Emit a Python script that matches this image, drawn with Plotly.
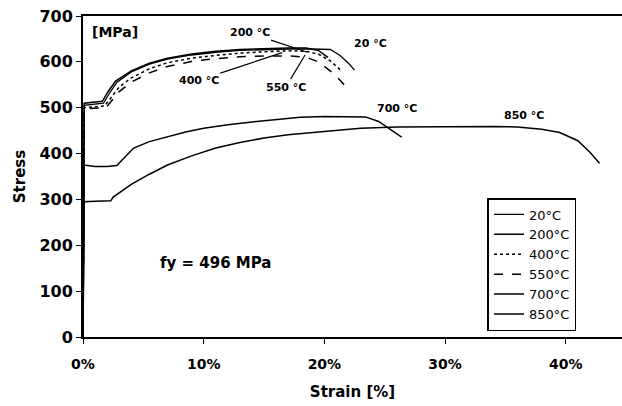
import plotly.graph_objects as go

# ---- data (strain in %, stress in MPa) ----
strain_20 = [0, 0.1, 1.7, 2.2, 2.8, 4, 5.5, 7, 9, 11, 13, 15, 17, 19, 20.5, 21.3, 22, 22.5]
stress_20 = [0, 505, 510, 532, 555, 578, 595, 606, 615, 621, 625, 627, 628, 628, 627, 614, 597, 582]

strain_200 = [0, 0.1, 1.6, 2.1, 2.7, 4, 5.5, 7, 9, 11, 13, 15, 17, 18.5, 19.5, 20.3]
stress_200 = [0, 510, 514, 536, 558, 580, 597, 608, 617, 623, 627, 629, 630, 630, 625, 610]

strain_400 = [0, 0.1, 1.8, 2.3, 3, 4, 5.5, 7, 9, 11, 13, 15, 17, 18.5, 19.5, 20.5, 21.3]
stress_400 = [0, 500, 504, 522, 545, 565, 585, 598, 608, 614, 619, 622, 624, 623, 617, 602, 583]

strain_550 = [0, 0.1, 1.9, 2.4, 3, 4, 5.5, 7, 9, 11, 13, 15, 17, 18.5, 19.5, 20.5, 21.3, 22]
stress_550 = [0, 498, 500, 515, 535, 556, 576, 590, 601, 607, 611, 613, 613, 610, 600, 580, 560, 539]

strain_700 = [0, 0.1, 1, 2, 2.8, 3.5, 4.2, 5.5, 7, 8.5, 10, 12, 14, 16, 18, 20, 22, 23.4, 24.5, 25.5, 26.4]
stress_700 = [0, 375, 372, 372, 374, 392, 412, 426, 437, 447, 455, 463, 469, 474, 479, 481, 481, 480, 470, 452, 436]

strain_850 = [0, 0.1, 1, 2.3, 2.5, 3, 4, 5.5, 7, 9, 11, 13, 15, 17, 19, 21, 23, 26, 30, 34, 36, 38, 39.5, 41, 42, 42.8]
stress_850 = [0, 295, 296, 297, 305, 315, 333, 355, 375, 395, 412, 424, 434, 441, 446, 451, 455, 458, 459, 459, 458, 453, 446, 428, 403, 379]

legend_names = ["20°C", "200°C", "400°C", "550°C", "700°C", "850°C"]
curve_labels = ["20 °C", "200 °C", "400 °C", "550 °C", "700 °C", "850 °C"]
y_ticks = [0, 100, 200, 300, 400, 500, 600, 700]
x_ticks = [0, 10, 20, 30, 40]
x_tick_text = ["0%", "10%", "20%", "30%", "40%"]

series = [
    (strain_20, stress_20, "solid", 1.3),
    (strain_200, stress_200, "solid", 1.5),
    (strain_400, stress_400, "dot", 1.5),
    (strain_550, stress_550, "dash", 1.5),
    (strain_700, stress_700, "solid", 1.5),
    (strain_850, stress_850, "solid", 1.5),
]

fig = go.Figure()
for (xs, ys, dash, w), name in zip(series, legend_names):
    fig.add_trace(go.Scatter(x=xs, y=ys, mode="lines", name=name,
                             line=dict(color="black", width=w, dash=dash)))

lab_font = dict(family="DejaVu Sans", size=11, color="black", weight="bold")

# curve labels: (text, target x, target y, label x, label y)
labels = [
    (curve_labels[0], None, None, 23.8, 641),
    (curve_labels[1], 18.6, 621, 13.8, 663),
    (curve_labels[2], 16.5, 620, 9.6, 560),
    (curve_labels[3], 18.4, 615, 16.8, 545),
    (curve_labels[4], None, None, 26.0, 499),
    (curve_labels[5], None, None, 36.5, 484),
]
for text, tx, ty, lx, ly in labels:
    if tx is None:
        fig.add_annotation(x=lx, y=ly, text=text, showarrow=False, font=lab_font)
    else:
        fig.add_annotation(x=tx, y=ty, ax=lx, ay=ly, axref="x", ayref="y",
                           text=text, showarrow=True, arrowhead=0, arrowwidth=1.2,
                           arrowcolor="black", font=lab_font)

fig.add_annotation(x=2.65, y=665, text="[MPa]", showarrow=False,
                   font=dict(family="DejaVu Sans", size=14, color="black", weight="bold"))
fig.add_annotation(x=11.0, y=161, text="fy = 496 MPa", showarrow=False,
                   font=dict(family="DejaVu Sans", size=15, color="black", weight="bold"))

fig.update_layout(
    width=622, height=406,
    margin=dict(l=83, r=0, t=16, b=69),
    paper_bgcolor="white", plot_bgcolor="white",
    font=dict(family="DejaVu Sans", color="black"),
    showlegend=True,
    legend=dict(x=0.833, y=0.433, xanchor="center", yanchor="top",
                bgcolor="white", bordercolor="black", borderwidth=1.5,
                font=dict(family="DejaVu Sans", size=13, color="black"),
                tracegroupgap=0, itemwidth=30),
    xaxis=dict(range=[0, 44.66], tickvals=x_ticks, ticktext=x_tick_text,
               showgrid=False, zeroline=False, showline=True, linecolor="black",
               linewidth=2, mirror=True, ticks="outside", ticklen=5, tickcolor="black",
               ticklabelstandoff=8,
               tickfont=dict(family="DejaVu Sans", size=14, weight="bold"),
               title=dict(text="Strain [%]", standoff=16,
                          font=dict(family="DejaVu Sans", size=15, weight="bold"))),
    yaxis=dict(range=[0, 700], tickvals=y_ticks,
               showgrid=False, zeroline=False, showline=True, linecolor="black",
               linewidth=2, ticks="outside", ticklen=5, tickcolor="black",
               tickfont=dict(family="DejaVu Sans", size=16, weight="bold"),
               title=dict(text="Stress", standoff=10,
                          font=dict(family="DejaVu Sans", size=15, weight="bold"))),
)

fig.write_html("out.html")
